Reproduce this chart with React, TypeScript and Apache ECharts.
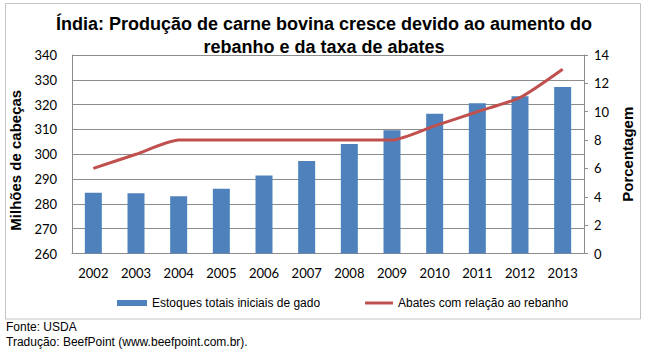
import React, { useEffect, useRef } from 'react';
import * as echarts from 'echarts';

const years = ['2002', '2003', '2004', '2005', '2006', '2007', '2008', '2009', '2010', '2011', '2012', '2013'];
const stockValues = [284.5, 284.3, 283.1, 286.1, 291.4, 297.3, 304.1, 309.7, 316.3, 320.6, 323.4, 327.1];
const slaughterRate = [6, 7, 8, 8, 8, 8, 8, 8, 9, 10, 11, 13];
const stockName = 'Estoques totais iniciais de gado';
const rateName = 'Abates com relação ao rebanho';
const titleText = 'Índia: Produção de carne bovina cresce devido ao aumento do\nrebanho e da taxa de abates';
const leftAxisName = 'Milhões de cabeças';
const rightAxisName = 'Porcentagem';
const footer1 = 'Fonte: USDA';
const footer2 = 'Tradução: BeefPoint (www.beefpoint.com.br).';

const AXIS_FONT = 'Lato, "Open Sans", sans-serif';
const ARIAL = '"Liberation Sans", Arial, sans-serif';

export default function App() {
  const ref = useRef<HTMLDivElement>(null);
  useEffect(() => {
    document.body.style.margin = '0';
    const chart = echarts.init(ref.current!, null, { renderer: 'svg' });
    chart.setOption({
      animation: false,
      backgroundColor: '#ffffff',
      title: {
        text: titleText,
        left: 'center',
        top: 7,
        textStyle: { fontFamily: ARIAL, fontWeight: 'bold', fontSize: 18, lineHeight: 23, color: '#000' },
      },
      grid: { left: 72, right: 64, top: 55, bottom: 101.5 },
      legend: [
        {
          data: [{ name: stockName, icon: 'rect' }],
          left: 112,
          top: 292,
          itemWidth: 30,
          itemHeight: 6,
          itemGap: 7,
          textStyle: { fontFamily: ARIAL, fontSize: 12, color: '#000' },
        },
        {
          data: [{ name: rateName, icon: 'rect' }],
          left: 360,
          top: 292,
          itemWidth: 28,
          itemHeight: 3,
          textStyle: { fontFamily: ARIAL, fontSize: 12, color: '#000' },
        },
      ],
      xAxis: {
        type: 'category',
        data: years,
        axisLine: { show: true, lineStyle: { color: '#8c8c8c', width: 1 } },
        axisTick: { show: false },
        axisLabel: { fontFamily: AXIS_FONT, fontSize: 13, color: '#000', margin: 13 },
      },
      yAxis: [
        {
          type: 'value',
          min: 260,
          max: 340,
          interval: 10,
          name: leftAxisName,
          nameLocation: 'middle',
          nameRotate: 90,
          nameGap: 45,
          nameTextStyle: { fontFamily: ARIAL, fontWeight: 'bold', fontSize: 15, color: '#000', padding: [0, 12, 0, 0] },
          axisLine: { show: true, lineStyle: { color: '#8c8c8c', width: 1 } },
          axisTick: { show: false },
          axisLabel: { fontFamily: AXIS_FONT, fontSize: 13, color: '#000', margin: 15 },
          splitLine: { show: true, lineStyle: { color: '#8c8c8c', width: 1 } },
        },
        {
          type: 'value',
          min: 0,
          max: 14,
          interval: 2,
          position: 'right',
          name: rightAxisName,
          nameLocation: 'middle',
          nameRotate: 90,
          nameGap: 34,
          nameTextStyle: { fontFamily: ARIAL, fontWeight: 'bold', fontSize: 15, color: '#000' },
          axisLine: { show: true, lineStyle: { color: '#8c8c8c', width: 1 } },
          axisTick: { show: true, length: 4, lineStyle: { color: '#8c8c8c' } },
          axisLabel: { fontFamily: AXIS_FONT, fontSize: 13, color: '#000', margin: 10 },
          splitLine: { show: false },
        },
      ],
      series: [
        {
          name: stockName,
          type: 'bar',
          data: stockValues,
          barWidth: 17,
          itemStyle: { color: '#4F81BD' },
        },
        {
          name: rateName,
          type: 'line',
          yAxisIndex: 1,
          data: slaughterRate,
          symbol: 'none',
          smooth: 0.2,
          lineStyle: { color: '#C0504D', width: 3 },
          itemStyle: { color: '#C0504D' },
        },
      ],
      graphic: [
        {
          type: 'rect',
          z: -1,
          shape: { x: 5.5, y: 3.5, width: 635, height: 315.5 },
          style: { fill: 'none', stroke: '#c4c4c4', lineWidth: 1 },
        },
        {
          type: 'text',
          left: 6,
          top: 321,
          style: { text: footer1, font: '12px "Liberation Sans", Arial, sans-serif', fill: '#000' },
        },
        {
          type: 'text',
          left: 6,
          top: 336,
          style: { text: footer2, font: '12px "Liberation Sans", Arial, sans-serif', fill: '#000' },
        },
      ],
    });
    return () => chart.dispose();
  }, []);
  return <div ref={ref} style={{ width: 648, height: 355 }} />;
}
